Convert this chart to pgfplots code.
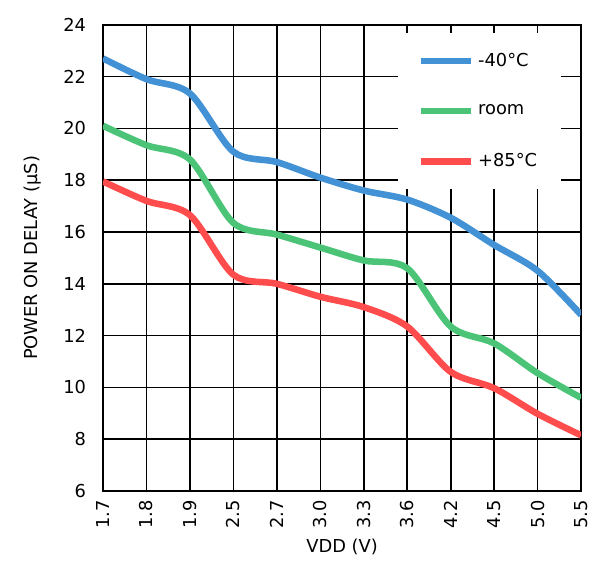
\documentclass[border=0pt]{standalone}
\usepackage{pgfplots}
\pgfplotsset{compat=1.18}
\usepackage{fontspec}
\setmainfont{DejaVu Sans}
\definecolor{cblue}{RGB}{66,146,213}
\definecolor{cgreen}{RGB}{76,196,120}
\definecolor{cred}{RGB}{255,76,76}
\begin{document}
\begin{tikzpicture}
\useasboundingbox (0,0) rectangle (299pt,287pt);
\begin{axis}[
  at={(52pt,39pt)}, anchor=south west,
  scale only axis, width=241.5pt, height=235.5pt,
  xmin=0, xmax=11, ymin=6, ymax=24,
  xtick={0,...,11},
  xticklabels={1.7,1.8,1.9,2.5,2.7,3.0,3.3,3.6,4.2,4.5,5.0,5.5},
  ytick={6,8,...,24},
  major tick length=0pt,
  grid=major,
  grid style={black, line width=0.8pt},
  axis line style={black, line width=0.8pt},
  font=\fontsize{9}{11}\selectfont,
  /pgf/number format/assume math mode=true,
  x tick label style={rotate=90, anchor=east, xshift=-1pt},
  y tick label style={xshift=-5pt},
  xlabel={VDD (V)},
  ylabel={POWER ON DELAY (µS)},
  xlabel style={at={(axis description cs:0.5,0)}, anchor=base, yshift=-31pt},
  ylabel style={at={(axis description cs:0,0.5)}, anchor=base, yshift=33pt},
  legend cell align=left,
  legend style={at={(rel axis cs:0.9586,0.983)}, anchor=north east,
    draw=none, fill=white, inner xsep=10pt, inner ysep=8pt,
    row sep=14pt, font=\fontsize{9}{11}\selectfont},
  legend image code/.code={\draw[#1, line width=3.3pt] (0pt,0pt) -- (25pt,0pt);},
]
\addplot[cblue, line width=3.3pt, smooth] coordinates {
(0,22.7) (1,21.9) (2,21.35) (3,19.1) (4,18.7) (5,18.1) (6,17.6) (7,17.25) (8,16.55) (9,15.5) (10,14.5) (11,12.8)};
\addlegendentry{-40°C}
\addplot[cgreen, line width=3.3pt, smooth] coordinates {
(0,20.1) (1,19.35) (2,18.8) (3,16.35) (4,15.9) (5,15.4) (6,14.9) (7,14.6) (8,12.35) (9,11.7) (10,10.55) (11,9.6)};
\addlegendentry{room}
\addplot[cred, line width=3.3pt, smooth] coordinates {
(0,17.95) (1,17.2) (2,16.65) (3,14.35) (4,14.0) (5,13.5) (6,13.1) (7,12.35) (8,10.6) (9,9.97) (10,8.98) (11,8.15)};
\addlegendentry{+85°C}
\end{axis}
\end{tikzpicture}
\end{document}
